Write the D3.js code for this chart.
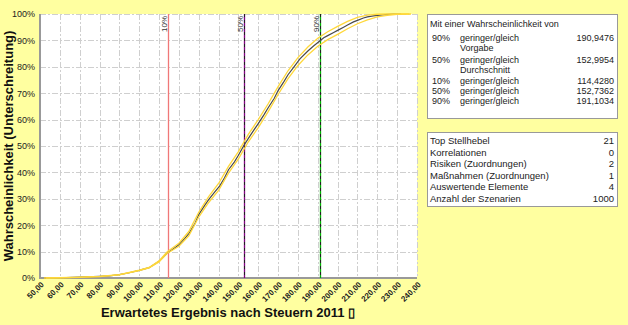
<!DOCTYPE html>
<html><head><meta charset="utf-8">
<script src="https://cdn.jsdelivr.net/npm/d3@7"></script>
<style>
html,body{margin:0;padding:0;background:#FFFFA0;}
svg{display:block;font-family:"Liberation Sans",Arial,sans-serif;}
</style></head>
<body>
<svg id="c" width="628" height="325"></svg>
<script>
// ---- data ----
const xTicks = [50,60,70,80,90,100,110,120,130,140,150,160,170,180,190,200,210,220,230,240];
const yTicks = [0,0.1,0.2,0.3,0.4,0.5,0.6,0.7,0.8,0.9,1.0];
const centerX = [52,60,70,80,85,90,95,100,105,110,114.4,118,120,123,125,128,130,133,135,138,140.7,143,145,148,150,153,156,160,163,165,168,170,173,175,178,181,185,188,191,193,195,198,200,203,205,208,210,213,215,218,220,224,228,232];
const centerP = [0,0.001,0.003,0.006,0.008,0.0125,0.02,0.029,0.039,0.063,0.096,0.115,0.126,0.15,0.168,0.205,0.24,0.275,0.297,0.325,0.35,0.38,0.41,0.44,0.465,0.505,0.54,0.585,0.62,0.645,0.68,0.71,0.745,0.77,0.80,0.83,0.86,0.88,0.898,0.91,0.918,0.93,0.938,0.95,0.958,0.97,0.976,0.985,0.989,0.993,0.995,0.998,1.0,1.0];
const upperX = [52,60,70,80,90,100,105,110,114,120,125,130,135,140,145,150,155,160,165,170,175,180,185,190,195,200,205,210,215,220,225,237];
const upperP = [0,0.001,0.003,0.006,0.013,0.03,0.04,0.065,0.099,0.132,0.176,0.249,0.308,0.358,0.423,0.479,0.544,0.6,0.66,0.725,0.785,0.835,0.875,0.908,0.933,0.953,0.972,0.987,0.996,0.999,1.0,1.0];
const lowerX = [53,60,70,80,90,100,105,110,114,120,125,130,135,140,145,150,155,160,165,170,175,180,185,190,195,200,205,210,215,220,225,230,236];
const lowerP = [0,0.001,0.002,0.005,0.012,0.028,0.038,0.061,0.093,0.12,0.16,0.231,0.286,0.332,0.397,0.451,0.516,0.57,0.63,0.695,0.755,0.805,0.845,0.878,0.903,0.923,0.944,0.963,0.978,0.989,0.995,0.999,1.0];
const refValues = [114.428, 152.9954, 190.9476];
const refLabels = ["10%","50%","90%"];
const refColors = ["#F07878","#800080","#00B000"];
const box1Title = "Mit einer Wahrscheinlichkeit von";
const box1Pct = ["90%","","50%","","10%","50%","90%"];
const box1Text = ["geringer/gleich","Vorgabe","geringer/gleich","Durchschnitt","geringer/gleich","geringer/gleich","geringer/gleich"];
const box1Val = ["190,9476","","152,9954","","114,4280","152,7362","191,1034"];
const box2Labels = ["Top Stellhebel","Korrelationen","Risiken (Zuordnungen)","Maßnahmen (Zuordnungen)","Auswertende Elemente","Anzahl der Szenarien"];
const box2Values = ["21","0","2","1","4","1000"];

// ---- layout ----
const svg = d3.select("#c");
const L = 40, R = 417, T = 14, B = 278;
const x = d3.scaleLinear().domain([50,240]).range([L,R]);
const y = d3.scaleLinear().domain([0,1]).range([B,T]);

svg.append("rect").attr("width",628).attr("height",325).attr("fill","#FFFFA0");
svg.append("rect").attr("x",L).attr("y",T).attr("width",R-L).attr("height",B-T).attr("fill","#fff");

// grid
const grid = svg.append("g").attr("stroke","#cfcfcf").attr("stroke-width",1).attr("stroke-dasharray","6,2,2,2");
grid.selectAll("line.v").data(xTicks.slice(1)).join("line")
  .attr("x1",d=>Math.round(x(d))+0.5).attr("x2",d=>Math.round(x(d))+0.5).attr("y1",T).attr("y2",B);
grid.selectAll("line.h").data(yTicks.slice(1)).join("line")
  .attr("y1",d=>Math.round(y(d))+0.5).attr("y2",d=>Math.round(y(d))+0.5).attr("x1",L).attr("x2",R);

// axes
const yAxis = d3.axisLeft(y).tickValues(yTicks).tickFormat(d=>Math.round(d*100)+"%").tickSize(0).tickPadding(5);
const gy = svg.append("g").attr("transform",`translate(${L},0)`).call(yAxis);
gy.select(".domain").remove();
gy.selectAll("text").attr("font-size","9px").attr("fill","#222").attr("font-family","Liberation Sans, Arial, sans-serif");

const xAxis = d3.axisBottom(x).tickValues(xTicks).tickFormat(d=>d3.format(".2f")(d).replace(".",",")).tickSize(0);
const gx = svg.append("g").attr("transform",`translate(0,${B})`).call(xAxis);
gx.select(".domain").remove();
gx.selectAll("text").attr("font-size","8px").attr("font-weight","bold").attr("fill","#222")
  .attr("font-family","Liberation Sans, Arial, sans-serif")
  .attr("text-anchor","end").attr("dy",null).attr("y",null)
  .attr("transform","translate(4,7) rotate(-45)");

svg.append("line").attr("x1",L).attr("x2",L).attr("y1",T).attr("y2",B+1).attr("stroke","#999").attr("stroke-width",2);
svg.append("line").attr("x1",L-1).attr("x2",R).attr("y1",B).attr("y2",B).attr("stroke","#999").attr("stroke-width",2);

// reference lines
refValues.forEach((v,i)=>{
  const xp = Math.round(x(v))+0.5;
  svg.append("line").attr("x1",xp).attr("x2",xp).attr("y1",T).attr("y2",B).attr("stroke",refColors[i]).attr("stroke-width",1.3);
  if(i>0) svg.append("line").attr("x1",xp).attr("x2",xp).attr("y1",T).attr("y2",B).attr("stroke","#222").attr("stroke-width",1).attr("stroke-dasharray","3,3");
  svg.append("text").attr("transform",`translate(${xp-2},${T+2}) rotate(-90)`).attr("text-anchor","end")
    .attr("font-size","8px").attr("fill","#333").text(refLabels[i]);
});

// curves
const line = d3.line().x(d=>x(d[0])).y(d=>y(d[1]));
svg.append("path").datum(d3.zip(centerX,centerP)).attr("d",line).attr("fill","none").attr("stroke","#4a4a4a").attr("stroke-width",1.2);
svg.append("path").datum(d3.zip(upperX,upperP)).attr("d",line).attr("fill","none").attr("stroke","#FFD83A").attr("stroke-width",1.3);
svg.append("path").datum(d3.zip(lowerX,lowerP)).attr("d",line).attr("fill","none").attr("stroke","#FFD83A").attr("stroke-width",1.3);

// axis titles
svg.append("text").attr("transform","translate(13,146) rotate(-90)").attr("text-anchor","middle")
  .attr("font-size","13px").attr("font-weight","bold").attr("fill","#111").text("Wahrscheinlichkeit (Unterschreitung)");
svg.append("text").attr("x",228).attr("y",317).attr("text-anchor","middle")
  .attr("font-size","13px").attr("font-weight","bold").attr("fill","#111").text("Erwartetes Ergebnis nach Steuern 2011 ▯");

// legend box 1
const b1 = svg.append("g");
b1.append("rect").attr("x",427.5).attr("y",14.5).attr("width",190).attr("height",104).attr("fill","#fff").attr("stroke","#999");
b1.append("text").attr("x",430).attr("y",27).attr("font-size","9px").attr("fill","#222").text(box1Title);
const rowsY = [41,51,63,73,84,94,104];
box1Text.forEach((t,i)=>{
  b1.append("text").attr("x",432).attr("y",rowsY[i]).attr("font-size","9px").attr("fill","#222").text(box1Pct[i]);
  b1.append("text").attr("x",460).attr("y",rowsY[i]).attr("font-size","9px").attr("fill","#222").text(t);
  b1.append("text").attr("x",614).attr("y",rowsY[i]).attr("text-anchor","end").attr("font-size","9px").attr("fill","#222").text(box1Val[i]);
});

// legend box 2
const b2 = svg.append("g");
b2.append("rect").attr("x",427.5).attr("y",132.5).attr("width",190).attr("height",74).attr("fill","#fff").attr("stroke","#999");
box2Labels.forEach((t,i)=>{
  const yy = 144 + i*11.6;
  b2.append("text").attr("x",430).attr("y",yy).attr("font-size","9.5px").attr("fill","#222").text(t);
  b2.append("text").attr("x",614).attr("y",yy).attr("text-anchor","end").attr("font-size","9.5px").attr("fill","#222").text(box2Values[i]);
});
</script>
</body></html>
